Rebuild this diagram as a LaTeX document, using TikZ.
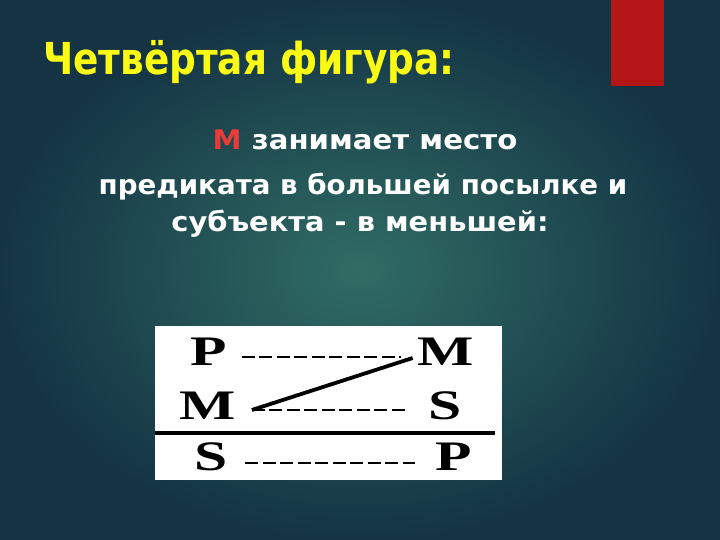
\documentclass[tikz,border=0pt]{standalone}
\usepackage{fontspec}
\setmainfont{DejaVu Sans}
\newfontfamily\tabfont{Liberation Serif}
\usetikzlibrary{calc}
\definecolor{bgin}{RGB}{48,108,100}
\definecolor{bgout}{RGB}{20,52,68}
\definecolor{barred}{RGB}{180,22,24}
\definecolor{titleyellow}{RGB}{250,250,20}
\definecolor{mred}{RGB}{232,60,56}
\tikzset{
  titletext/.style={anchor=base west, inner sep=0pt, text=titleyellow, font=\fontsize{44}{44}\selectfont\bfseries},
  bodytext/.style={anchor=base, inner sep=0pt, text=white, font=\fontsize{27}{27}\selectfont\bfseries},
  letter/.style={anchor=base, inner sep=0pt, font=\tabfont\fontsize{42}{42}\selectfont\bfseries},
  dashrow/.style={line width=2.8pt, dash pattern=on 13pt off 4.5pt},
  diag/.style={line width=3.8pt},
  rule/.style={line width=3.5pt}
}
\newcommand{\wl}[1]{\scalebox{1.42}[1]{#1}}
\newcommand{\sx}[2]{\scalebox{#1}[1]{#2}}
\begin{document}
\begin{tikzpicture}[x=1pt,y=-1pt]
\useasboundingbox (0,0) rectangle (720,540);
\shade[inner color=bgin, outer color=bgout] (0,0) rectangle (720,540);
\fill[barred] (611,0) rectangle (664,86);
\node[titletext] (title) at (43,75) {\sx{0.85}{Четвёртая фигура:}};
\node[bodytext] (l1) at (365,150) {\sx{1.08}{{\color{mred}М} занимает место}};
\node[bodytext] (l2) at (363,195) {\sx{1.026}{предиката в большей посылке и}};
\node[bodytext] (l3) at (360,232) {\sx{1.07}{субъекта - в меньшей:}};
\fill[white] (155,326) rectangle (502,480);
\node[letter] (p1) at (208.5,365) {\wl{P}};
\node[letter] (m1) at (446,365) {\wl{M}};
\node[letter] (m2) at (207.5,419) {\wl{M}};
\node[letter] (s2) at (445,419) {\wl{S}};
\node[letter] (s3) at (211.5,470) {\wl{S}};
\node[letter] (p3) at (453.5,470) {\wl{P}};
\draw[dashrow] ($(p1.base east)+(15,-8)$) -- ($(m1.base west)+(-17,-8)$);
\draw[dashrow] ($(m2.base east)+(16,-9)$) -- ($(s2.base west)+(-23,-9)$);
\draw[dashrow] ($(s3.base east)+(17,-7)$) -- ($(p3.base west)+(-20,-7)$);
\draw[diag] ($(m2.base east)+(16,-9)$) -- ($(m1.base west)+(-5,-7)$);
\coordinate (rl) at (155,433);
\coordinate (rr) at (495,433);
\draw[rule] (rl) -- (rr);
\end{tikzpicture}
\end{document}
